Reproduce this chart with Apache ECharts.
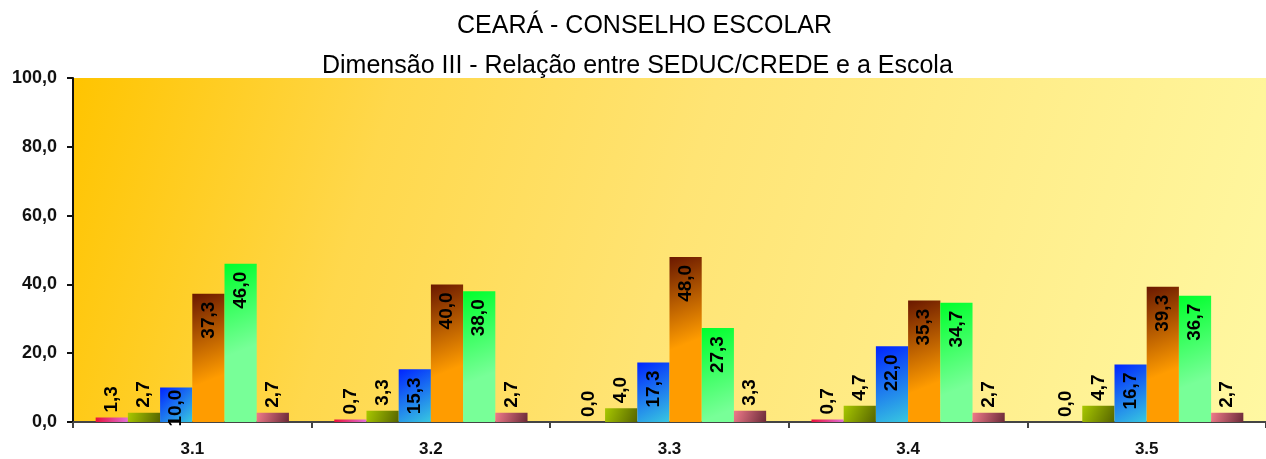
<!DOCTYPE html>
<html>
<head>
<meta charset="utf-8">
<script src="https://cdn.jsdelivr.net/npm/echarts@6/dist/echarts.min.js"></script>
<style>
  html, body { margin: 0; padding: 0; background: #fff; }
  #chart { width: 1266px; height: 459px; }
</style>
</head>
<body>
<div id="chart"></div>
<script>
// categorias (itens da dimensão III)
const categories = ['3.1', '3.2', '3.3', '3.4', '3.5']
// seis séries de percentuais
const serie1 = [1.3, 0.7, 0.0, 0.7, 0.0]
const serie2 = [2.7, 3.3, 4.0, 4.7, 4.7]
const serie3 = [10.0, 15.3, 17.3, 22.0, 16.7]
const serie4 = [37.3, 40.0, 48.0, 35.3, 39.3]
const serie5 = [46.0, 38.0, 27.3, 34.7, 36.7]
const serie6 = [2.7, 2.7, 3.3, 2.7, 2.7]
const yTicks = [0, 20, 40, 60, 80, 100]

const fonte = 'Arial, "Liberation Sans", sans-serif'

// gradientes das barras (canto sup. esquerdo -> inf. direito)
const gradientes = [
  ['#e8103a', '#e070d8'],
  ['#a8c800', '#566400'],
  ['#0024ff', '#38c8e0'],
  ['#6a1800', '#ff9c00'],
  ['#00ff2c', '#78ff98'],
  ['#f07a8a', '#6a2a38']
]

const fmt = v => v.toFixed(1).replace('.', ',')

// gradiente diagonal, mais comprido nas barras altas
function corBarra(i, v) {
  const alturaRel = Math.max(v, 0.1) / 9.4 // ~ razão altura/largura da barra
  const y2 = Math.min(1, 2.5 / alturaRel)
  return new echarts.graphic.LinearGradient(0, 0, 1, y2, [
    { offset: 0, color: gradientes[i][0] },
    { offset: 1, color: gradientes[i][1] }
  ])
}

// rótulo dentro da barra quando cabe, senão acima
function montaDados(valores, i) {
  return valores.map(v => {
    const item = { value: v, itemStyle: { color: corBarra(i, v) } }
    if (v >= 9) {
      item.label = { position: 'insideTop', rotate: 90, align: 'right', verticalAlign: 'middle', distance: v < 12 ? 2 : 8 }
    } else {
      item.label = { position: 'top', rotate: 90, align: 'left', verticalAlign: 'middle', distance: 5 }
    }
    return item
  })
}

const series = [serie1, serie2, serie3, serie4, serie5, serie6].map((valores, i) => ({
  type: 'bar',
  data: montaDados(valores, i),
  barGap: '0%',
  barCategoryGap: '19%',
  label: {
    show: true,
    color: '#000',
    fontFamily: fonte,
    fontWeight: 'bold',
    fontSize: 19,
    formatter: p => fmt(p.value)
  }
}))

const myChart = echarts.init(document.getElementById('chart'))

const option = {
  animation: false,
  backgroundColor: '#fff',
  title: [
    {
      text: 'CEARÁ - CONSELHO ESCOLAR',
      left: 457,
      top: 14,
      padding: 0,
      textStyle: { fontFamily: fonte, fontWeight: 'normal', fontSize: 25, color: '#000' }
    },
    {
      text: 'Dimensão III - Relação entre SEDUC/CREDE e a Escola',
      left: 322,
      top: 54,
      padding: 0,
      textStyle: { fontFamily: fonte, fontWeight: 'normal', fontSize: 25, color: '#000' }
    }
  ],
  grid: {
    left: 73,
    right: -7,
    top: 78,
    bottom: 37,
    show: true,
    borderWidth: 0,
    backgroundColor: new echarts.graphic.LinearGradient(0, 0, 1, 1, [
      { offset: 0, color: '#ffc400' },
      { offset: 0.25, color: '#ffd84c' },
      { offset: 0.5, color: '#ffe474' },
      { offset: 1, color: '#fff8a2' }
    ])
  },
  xAxis: {
    type: 'category',
    data: categories,
    axisLine: { lineStyle: { color: '#444', width: 2 } },
    axisTick: { show: true, length: 6, lineStyle: { color: '#444', width: 2 } },
    axisLabel: {
      margin: 19,
      color: '#111',
      fontFamily: fonte,
      fontWeight: 'bold',
      fontSize: 17
    }
  },
  yAxis: {
    type: 'value',
    min: yTicks[0],
    max: yTicks[yTicks.length - 1],
    interval: yTicks[1] - yTicks[0],
    splitLine: { show: false },
    axisLine: { show: true, lineStyle: { color: '#111', width: 2 } },
    axisTick: { show: true, length: 6, lineStyle: { color: '#111', width: 2 } },
    axisLabel: {
      margin: 16,
      color: '#111',
      fontFamily: fonte,
      fontWeight: 'bold',
      fontSize: 18,
      formatter: v => fmt(v)
    }
  },
  series: series
}

myChart.setOption(option)
</script>
</body>
</html>
